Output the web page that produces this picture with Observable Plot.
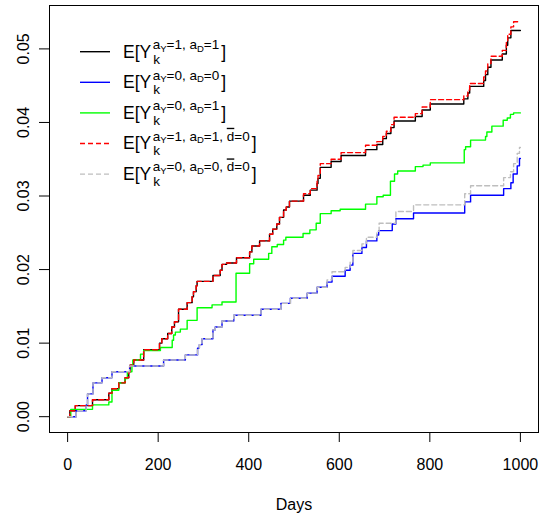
<!DOCTYPE html>
<html><head><meta charset="utf-8">
<script src="https://cdn.jsdelivr.net/npm/d3@7"></script>
<script src="https://cdn.jsdelivr.net/npm/@observablehq/plot@0.6"></script>
<style>body{margin:0;background:#fff}</style>
</head><body><div id="chart"></div>
<script>
// ---- data ----
const blackDays = [0,5,17,55,91,98,113,127,135,138,146,168,203,208,221,230,236,245,264,275,278,284,286,321,337,341,351,373,402,407,424,446,453,462,468,477,483,490,521,536,551,553,558,582,604,658,683,696,704,714,721,768,783,801,875,884,888,919,923,928,935,960,969,972,979,1000];
const blackVals = [0,.0008,.0015,.0023,.0032,.0038,.0046,.0053,.0061,.007,.0077,.0091,.01,.0106,.0113,.0122,.0129,.0146,.0155,.0163,.017,.0178,.0184,.0192,.0199,.0207,.0209,.0216,.0224,.0232,.0239,.0248,.0255,.0262,.0271,.0281,.0285,.0293,.0301,.0308,.0317,.0324,.0339,.0347,.0355,.0363,.037,.0378,.0385,.0393,.0402,.0408,.0417,.0425,.0432,.044,.0449,.0457,.0465,.0475,.0485,.0493,.0505,.0515,.0525,.0525];

const redDays = [0,5,17,55,91,98,113,127,135,138,146,168,203,208,221,230,236,245,264,275,278,284,286,321,337,341,351,373,402,407,424,446,453,462,468,477,483,490,521,536,551,553,558,582,604,658,683,696,704,714,721,768,783,801,875,884,888,919,923,928,935,960,969,972,979,985,1000];
const redVals = [0,.0008,.0015,.0023,.0032,.0038,.0046,.0053,.0061,.007,.0077,.0091,.01,.0106,.0113,.0122,.0129,.0146,.0155,.0163,.017,.0178,.0184,.0192,.0199,.0207,.0209,.0216,.0224,.0232,.0239,.0248,.0255,.0262,.0271,.0281,.0285,.0293,.0303,.031,.032,.0328,.0344,.035,.0359,.0369,.0374,.0381,.0388,.0397,.0407,.0412,.0421,.0431,.0436,.0444,.0453,.0462,.047,.048,.049,.0498,.051,.052,.053,.0537,.0537];

const blueDays = [0,19,41,44,56,76,98,137,212,260,287,291,297,321,326,341,367,427,471,492,529,551,573,584,613,624,630,650,660,683,687,717,725,764,877,890,963,979,984,993,998,1000];
const blueVals = [0,.0008,.0016,.0031,.0046,.0053,.0061,.0069,.0077,.0084,.0093,.0098,.0106,.0118,.0122,.013,.0138,.0146,.0154,.0161,.0168,.0176,.0183,.0191,.0199,.0206,.0222,.023,.0239,.0247,.0253,.0262,.0269,.0277,.0292,.0301,.031,.0318,.033,.0341,.0351,.0351];

const grayDays = [0,19,41,44,56,76,98,137,212,260,287,291,297,321,326,341,367,427,471,492,529,551,573,584,613,624,630,650,660,683,688,725,764,877,890,963,978,985,993,998,1000];
const grayVals = [0,.0008,.0016,.0031,.0046,.0053,.0061,.0069,.0077,.0084,.0093,.0098,.0106,.0118,.0122,.013,.0138,.0146,.0154,.0161,.0168,.0176,.0186,.0197,.0203,.021,.0226,.0235,.0244,.0252,.0263,.0279,.0288,.0303,.0314,.0325,.0333,.0344,.0358,.0366,.0366];

const greenDays = [0,7,55,91,98,113,127,132,142,144,161,168,205,231,234,238,249,264,286,319,341,372,402,411,444,451,463,477,482,520,535,549,558,582,602,658,683,697,713,722,729,768,785,801,876,879,890,923,926,937,962,971,978,985,1000];
const greenVals = [0,.001,.0016,.002,.0036,.0046,.0052,.0061,.007,.0077,.0085,.009,.0094,.0104,.0111,.0115,.0119,.0131,.0148,.0152,.0156,.0195,.0208,.0214,.0222,.0231,.0234,.024,.0244,.0249,.0254,.0263,.0276,.028,.0282,.0289,.0299,.0301,.032,.033,.0334,.034,.0342,.0345,.0363,.0367,.0376,.0381,.0387,.0395,.0403,.0406,.0411,.0413,.0413];

const xTicks = [0,200,400,600,800,1000];
const yTicks = [0,0.01,0.02,0.03,0.04,0.05];
const xLabel = "Days";

// legend: [text, kind] pieces of the superscript
const legendItems = [
  {color:"#000000", dash:null, sup:[["a"],["Y","sub"],["=1, a"],["D","sub"],["=1"]]},
  {color:"#0000FF", dash:null, sup:[["a"],["Y","sub"],["=0, a"],["D","sub"],["=0"]]},
  {color:"#00FF00", dash:null, sup:[["a"],["Y","sub"],["=0, a"],["D","sub"],["=1"]]},
  {color:"#FF0000", dash:"5,3", sup:[["a"],["Y","sub"],["=1, a"],["D","sub"],["=1, "],["d","bar"],["=0"]]},
  {color:"#BEBEBE", dash:"5,3", sup:[["a"],["Y","sub"],["=0, a"],["D","sub"],["=0, "],["d","bar"],["=0"]]}
];

const toRows = (d, v) => d.map((x, i) => ({x, y: v[i]}));
const series = [
  {rows: toRows(blackDays, blackVals), stroke: "#000000", dash: null},
  {rows: toRows(blueDays, blueVals), stroke: "#0000FF", dash: null},
  {rows: toRows(greenDays, greenVals), stroke: "#00FF00", dash: null},
  {rows: toRows(redDays, redVals), stroke: "#FF0000", dash: "5,3"},
  {rows: toRows(grayDays, grayVals), stroke: "#BEBEBE", dash: "5,3"}
];

const svg = Plot.plot({
  width: 544, height: 516,
  marginLeft: 49, marginRight: 6, marginTop: 5, marginBottom: 84,
  style: {fontFamily: "'Liberation Sans', Arial, sans-serif", fontSize: "16px", background: "white", color: "black"},
  x: {domain: [-40, 1040]},
  y: {domain: [-0.00215, 0.0559]},
  marks: [
    ...series.map(s => Plot.line(s.rows, {x: "x", y: "y", curve: "step-after", stroke: s.stroke, strokeWidth: 1.4, strokeDasharray: s.dash})),
    Plot.frame({stroke: "black", strokeWidth: 1}),
    Plot.axisX({ticks: xTicks, tickSize: 10, tickPadding: 16, tickFormat: d3.format("d"), label: null, fontSize: 16}),
    Plot.axisY({ticks: yTicks, tickSize: 10, tickFormat: () => "", label: null}),
    Plot.text(yTicks, {y: d => d, text: d => d3.format(".2f")(d), frameAnchor: "left", dx: -26, rotate: -90, textAnchor: "middle", lineAnchor: "middle", fontSize: 16}),
    Plot.text([xLabel], {text: d => d, frameAnchor: "bottom", dy: 72.7, lineAnchor: "middle", fontSize: 16})
  ]
});
document.getElementById("chart").appendChild(svg);

// legend drawn inside the plot area
const g = d3.select(svg).append("g")
  .attr("font-family", "'Liberation Sans', Arial, sans-serif")
  .attr("fill", "black").attr("text-anchor", "start").style("text-anchor", "start");
legendItems.forEach((item, i) => {
  const cy = 51.7 + i * 30.6, base = cy + 5.8;
  g.append("line").attr("x1", 80).attr("x2", 110).attr("y1", cy).attr("y2", cy)
    .attr("stroke", item.color).attr("stroke-width", 1.4).attr("stroke-dasharray", item.dash);
  const t1 = g.append("text").attr("x", 123).attr("y", base).attr("font-size", 17.5).text("E[Y");
  const xs = 123 + t1.node().getComputedTextLength() + 1.5;
  const sup = g.append("text").attr("x", xs).attr("y", base - 8.5).attr("font-size", 13.5);
  let off = 0;
  item.sup.forEach(([s, kind]) => {
    const ts = sup.append("tspan").text(s);
    if (kind === "sub") { ts.attr("font-size", 9.5).attr("dy", 2.5 - off); off = 2.5; }
    else {
      ts.attr("dy", 0 - off); off = 0;
      if (kind === "bar") ts.style("text-decoration", "overline");
    }
  });
  const wsup = sup.node().getComputedTextLength();
  g.append("text").attr("x", xs + 0.5).attr("y", base + 6).attr("font-size", 13.5).text("k");
  g.append("text").attr("x", xs + wsup + 2).attr("y", base).attr("font-size", 17.5).text("]");
});
</script>
</body></html>
